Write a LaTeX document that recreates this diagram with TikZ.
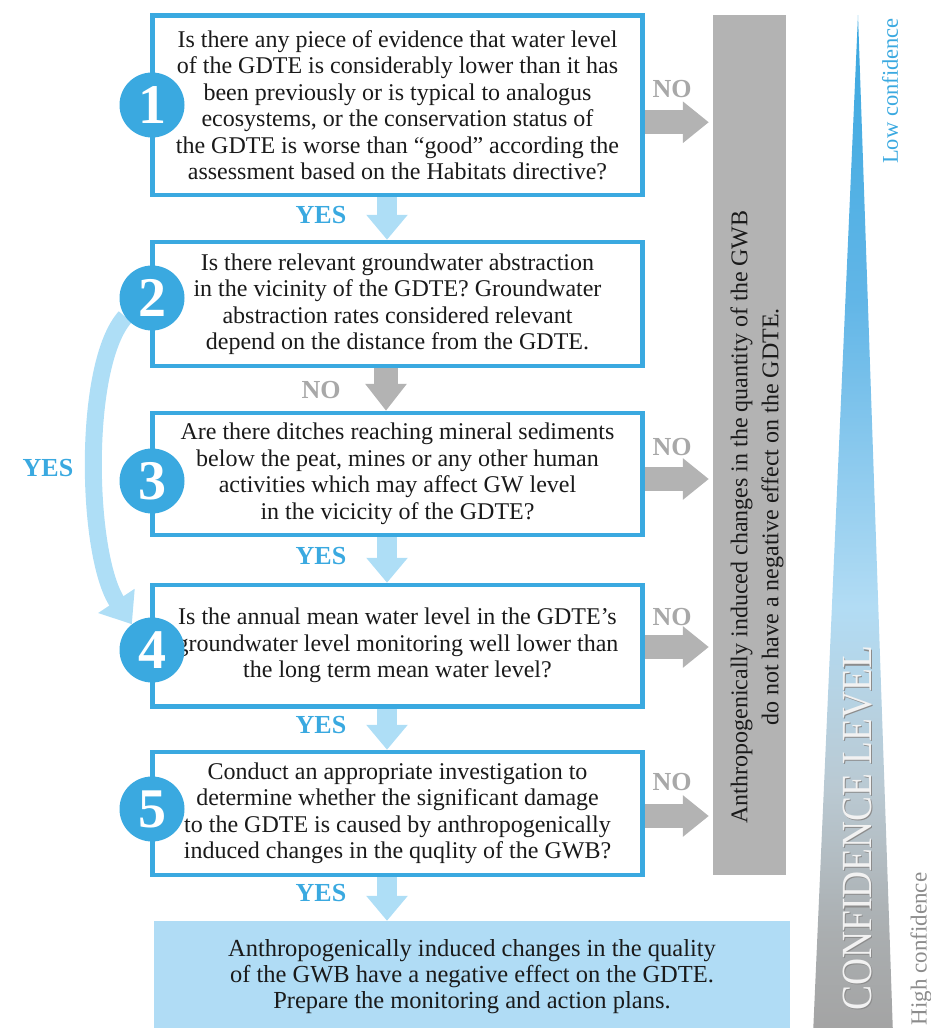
\documentclass[tikz,border=0pt]{standalone}
\usepackage{fontspec}
\usepackage{graphicx}
\setmainfont{Liberation Serif}
\usetikzlibrary{arrows.meta}
\definecolor{cblue}{HTML}{3AA9E0}
\definecolor{lblue}{HTML}{AEDEF6}
\definecolor{fblue}{HTML}{B0DCF5}
\definecolor{cgray}{HTML}{B3B3B3}
\definecolor{tgray}{HTML}{A8A8A8}
\definecolor{ink}{HTML}{1A1A1A}
\definecolor{sc0}{HTML}{A3A3A3}
\definecolor{sc1}{HTML}{AAAEB0}
\definecolor{sc2}{HTML}{BAC9D2}
\definecolor{sc3}{HTML}{B2DCF4}
\definecolor{sc4}{HTML}{62B6E7}
\definecolor{sc5}{HTML}{3AA8E0}
\pgfdeclareverticalshading{confshade}{100bp}{color(0bp)=(sc0); color(25bp)=(sc0); color(30bp)=(sc1); color(37bp)=(sc2); color(46bp)=(sc3); color(61bp)=(sc4); color(75bp)=(sc5); color(100bp)=(sc5)}
\pgfdeclarelayer{bg}
\pgfdeclarelayer{fg}
\pgfsetlayers{bg,main,fg}
\tikzset{
  qbox/.style={draw=cblue, line width=4.5pt, fill=white, minimum width=490pt, inner sep=0pt, align=center, text=ink, font=\fontsize{24}{26.5}\selectfont},
  numcirc/.style={circle, fill=cblue, minimum size=65pt, inner sep=0pt, text=white, font=\fontsize{56}{56}\selectfont\bfseries},
  yeslab/.style={text=cblue, font=\fontsize{26}{26}\selectfont\bfseries},
  nolab/.style={text=tgray, font=\fontsize{26}{26}\selectfont\bfseries},
  yesarrow/.style={lblue, line width=20pt, -{Triangle[length=25pt,width=40pt]}},
  noarrow/.style={cgray, line width=24pt, -{Triangle[length=26pt,width=40pt]}},
}
\begin{document}
\begin{tikzpicture}[x=1pt,y=-1pt]
\useasboundingbox (0,0) rectangle (931,1028);
\clip (0,0) rectangle (931,1028);
\begin{pgfonlayer}{bg}
  \node[fill=cgray, minimum width=73pt, minimum height=860pt, inner sep=0pt] (bar) at (749.5,445) {};
  \shade[shading=confshade] (858,15) -- (893,1035) -- (813,1035) -- cycle;
  \node[qbox, minimum height=179.5pt] (b1) at (397.5,105.25) {Is there any piece of evidence that water level\\of the GDTE is considerably lower than it has\\been previously or is typical to analogus\\ecosystems, or the conservation status of\\the GDTE is worse than “good” according the\\assessment based on the Habitats directive?};
  \node[qbox, minimum height=124pt] (b2) at (397.5,304) {Is there relevant groundwater abstraction\\in the vicinity of the GDTE? Groundwater\\abstraction rates considered relevant\\depend on the distance from the GDTE.};
  \node[qbox, minimum height=122pt] (b3) at (397.5,474) {Are there ditches reaching mineral sediments\\below the peat, mines or any other human\\activities which may affect GW level\\in the vicicity of the GDTE?};
  \node[qbox, minimum height=121.5pt] (b4) at (397.5,645.75) {Is the annual mean water level in the GDTE’s\\groundwater level monitoring well lower than\\the long term mean water level?};
  \node[qbox, minimum height=123pt] (b5) at (397.5,813.5) {Conduct an appropriate investigation to\\determine whether the significant damage\\to the GDTE is caused by anthropogenically\\induced changes in the quqlity of the GWB?};
  \node[fill=fblue, minimum width=636pt, minimum height=112pt, inner sep=0pt, align=center, text=ink, font=\fontsize{24.5}{26}\selectfont] (fin) at (472,977) {Anthropogenically induced changes in the quality\\of the GWB have a negative effect on the GDTE.\\Prepare the monitoring and action plans.};
\end{pgfonlayer}
\begin{pgfonlayer}{fg}
  \node[numcirc] (c1) at (152,105) {1};
  \node[numcirc] (c2) at (152,298) {2};
  \node[numcirc] (c3) at (152,481) {3};
  \node[numcirc] (c4) at (152,650) {4};
  \node[numcirc] (c5) at (152,809) {5};
\end{pgfonlayer}
% rotated texts
\node[rotate=90, align=center, text=ink, font=\fontsize{24}{31}\selectfont] (bartext) at (757,517) {Anthropogenically induced changes in the quantity of the GWB\\do not have a negative effect on the GDTE.};
\node[rotate=90, text=cblue, font=\fontsize{22.5}{22.5}\selectfont] (low) at (890,91) {Low confidence};
\node[rotate=90, text=black!45, font=\fontsize{23}{23}\selectfont] (high) at (921,949) {High confidence};
\node[rotate=90, text=black!45, font=\fontsize{43}{43}\selectfont] (conflvsh) at (859,829.5) {\scalebox{0.87}[1]{CONFIDENCE LEVEL}};
\node[rotate=90, text=black!5, font=\fontsize{43}{43}\selectfont] (conflv) at (857.5,828) {\scalebox{0.87}[1]{CONFIDENCE LEVEL}};
% YES arrows
\draw[yesarrow] ([xshift=-10.5pt]b1.south) -- ([xshift=-10.5pt]b2.north);
\draw[yesarrow] ([xshift=-10.5pt]b3.south) -- ([xshift=-10.5pt]b4.north);
\draw[yesarrow] ([xshift=-10.5pt]b4.south) -- ([xshift=-10.5pt]b5.north);
\draw[yesarrow] ([xshift=-10.5pt]b5.south) -- ([xshift=-10.5pt]b5.south |- fin.north);
% NO arrow down
\draw[noarrow, -{Triangle[length=27pt,width=40pt]}] ([xshift=-11.5pt]b2.south) -- ([xshift=-11.5pt]b3.north);
% NO arrows right
\draw[noarrow, shorten >=4pt] ([yshift=-17pt]b1.east) -- ([yshift=-17pt]b1.east -| bar.west);
\draw[noarrow, shorten >=4pt] ([yshift=-5pt]b3.east) -- ([yshift=-5pt]b3.east -| bar.west);
\draw[noarrow, shorten >=4pt] ([yshift=-1.25pt]b4.east) -- ([yshift=-1.25pt]b4.east -| bar.west);
\draw[noarrow, shorten >=4pt] ([yshift=-2.5pt]b5.east) -- ([yshift=-2.5pt]b5.east -| bar.west);
% curved YES arrow
\draw[lblue, line width=17pt, -{Triangle[length=28pt,width=42pt]}] (c2.215) .. controls (82,365) and (86,555) .. (c4.128);
% labels
\node[yeslab] (y1) at (321,215) {YES};
\node[yeslab] (y3) at (321,556) {YES};
\node[yeslab] (y4) at (321,725) {YES};
\node[yeslab] (y5) at (321,893) {YES};
\node[yeslab] (y2) at (48,468) {YES};
\node[nolab] (n1) at (672,89) {NO};
\node[nolab] (n2) at (321,390) {NO};
\node[nolab] (n3) at (672,447) {NO};
\node[nolab] (n4) at (672,617) {NO};
\node[nolab] (n5) at (672,782) {NO};
\end{tikzpicture}
\end{document}
